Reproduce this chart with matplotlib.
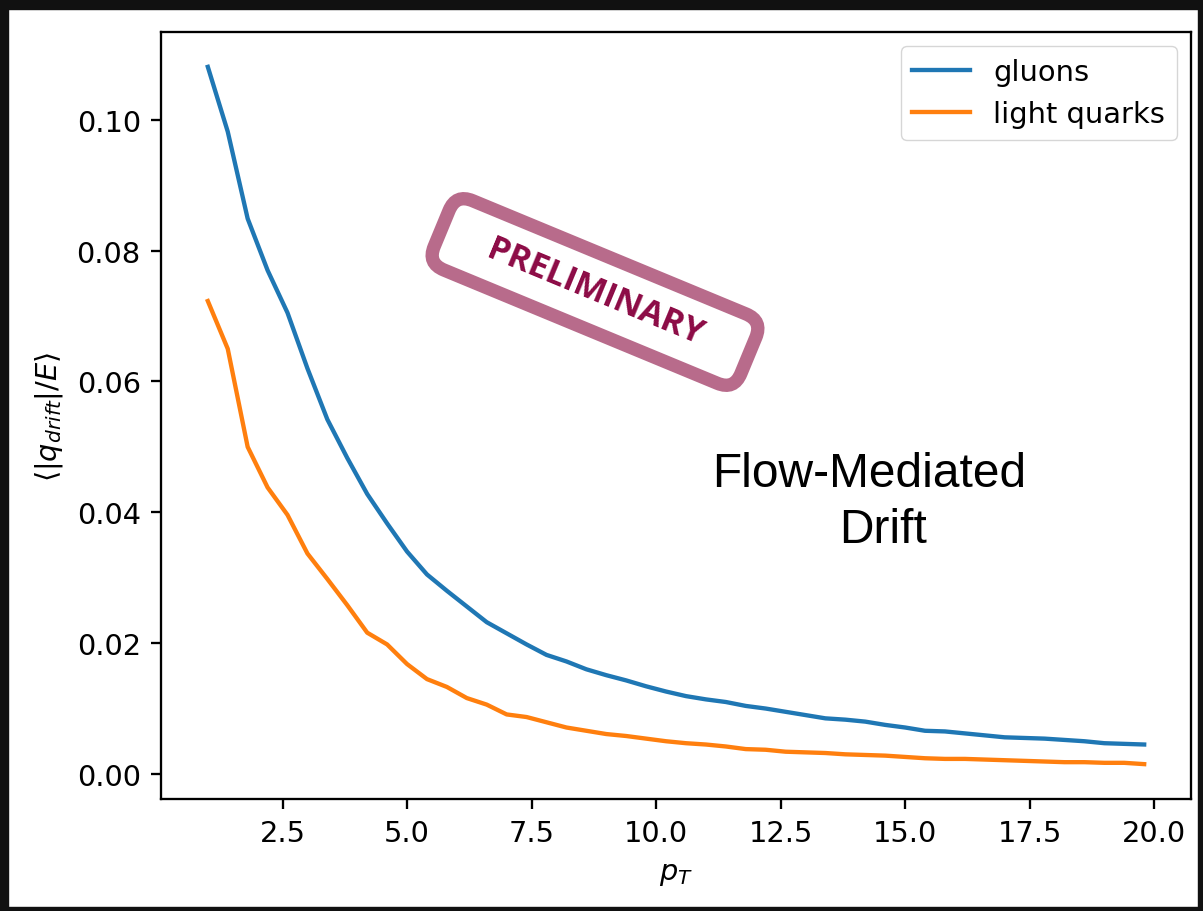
import matplotlib
matplotlib.use("Agg")
import matplotlib.pyplot as plt
import matplotlib.transforms as mtransforms
from matplotlib.patches import FancyBboxPatch, Rectangle

# ---- data ----
pt = [1.0, 1.4, 1.8, 2.2, 2.6, 3.0, 3.4, 3.8, 4.2, 4.6, 5.0, 5.4, 5.8, 6.2, 6.6, 7.0,
      7.4, 7.8, 8.2, 8.6, 9.0, 9.4, 9.8, 10.2, 10.6, 11.0, 11.4, 11.8, 12.2, 12.6, 13.0,
      13.4, 13.8, 14.2, 14.6, 15.0, 15.4, 15.8, 16.2, 16.6, 17.0, 17.4, 17.8, 18.2, 18.6,
      19.0, 19.4, 19.8]
gluons = [0.1081, 0.0982, 0.0849, 0.0770, 0.0705, 0.0620, 0.0542, 0.0483, 0.0428, 0.0383,
          0.0340, 0.0305, 0.0280, 0.0256, 0.0232, 0.0215, 0.0198, 0.0182, 0.0172, 0.0160,
          0.0151, 0.0143, 0.0134, 0.0126, 0.0119, 0.0114, 0.0110, 0.0104, 0.0100, 0.0095,
          0.0090, 0.0085, 0.0083, 0.0080, 0.0075, 0.0071, 0.0066, 0.0065, 0.0062, 0.0059,
          0.0056, 0.0055, 0.0054, 0.0052, 0.0050, 0.0047, 0.0046, 0.0045]
light_quarks = [0.0723, 0.0650, 0.0500, 0.0438, 0.0396, 0.0337, 0.0298, 0.0258, 0.0216, 0.0198,
                0.0168, 0.0145, 0.0133, 0.0116, 0.0106, 0.0091, 0.0087, 0.0079, 0.0071, 0.0066,
                0.0061, 0.0058, 0.0054, 0.0050, 0.0047, 0.0045, 0.0042, 0.0038, 0.0037, 0.0034,
                0.0033, 0.0032, 0.0030, 0.0029, 0.0028, 0.0026, 0.0024, 0.0023, 0.0023, 0.0022,
                0.0021, 0.0020, 0.0019, 0.0018, 0.0018, 0.0017, 0.0017, 0.0015]
series_labels = ["gluons", "light quarks"]
x_ticks = [2.5, 5.0, 7.5, 10.0, 12.5, 15.0, 17.5, 20.0]
y_ticks = [0.00, 0.02, 0.04, 0.06, 0.08, 0.10]

S = 2.076
plt.rcParams.update({
    "font.size": 10 * S,
    "lines.linewidth": 1.5 * S,
    "axes.linewidth": 0.8 * S,
    "xtick.major.size": 3.5 * S,
    "ytick.major.size": 3.5 * S,
    "xtick.major.width": 0.8 * S,
    "ytick.major.width": 0.8 * S,
    "xtick.major.pad": 3.5 * S,
    "ytick.major.pad": 3.5 * S,
    "axes.labelpad": 4.0 * S,
    "legend.edgecolor": "0.8",
})

W, H = 1203, 912
fig = plt.figure(figsize=(W / 100, H / 100), dpi=100)
ax = fig.add_axes([161 / W, (H - 800) / H, 1030 / W, 767 / H])

ax.plot(pt, gluons, color="#1f77b4", label=series_labels[0])
ax.plot(pt, light_quarks, color="#ff7f0e", label=series_labels[1])
ax.set_xticks(x_ticks)
ax.set_yticks(y_ticks)
ax.set_xlabel(r"$p_T$")
ax.set_ylabel(r"$\langle |q_{drift}|/E \rangle$")
ax.legend(loc="upper right")

# Flow-Mediated Drift annotation
fig.text(869 / W, (H - 487) / H, "Flow-Mediated", family="Liberation Sans",
         fontsize=34.5, ha="center", va="baseline", color="black")
fig.text(883 / W, (H - 543) / H, "Drift", family="Liberation Sans",
         fontsize=34.5, ha="center", va="baseline", color="black")

# PRELIMINARY stamp (display pixel coordinates)
cx, cy = 595, H - 293
bw, bh = 332, 75
angle = -22.5
rot = mtransforms.Affine2D().rotate_deg_around(cx, cy, angle)
stamp = FancyBboxPatch((cx - bw / 2, cy - bh / 2), bw, bh,
                       boxstyle="round,pad=0,rounding_size=18",
                       facecolor="white", edgecolor="#b86b8b", linewidth=9.6,
                       transform=rot, zorder=5)
fig.add_artist(stamp)
fig.text(cx / W, cy / H, "PRELIMINARY", rotation=angle, rotation_mode="anchor",
         ha="center", va="center", family="Open Sans", fontweight="bold",
         fontsize=24.5, color="#8c0a45", zorder=6)

# screenshot border
border = "#111111"
fig.add_artist(Rectangle((0, H - 10), W, 10, transform=None, color=border, zorder=10))
fig.add_artist(Rectangle((0, 0), 8, H, transform=None, color=border, zorder=10))
fig.add_artist(Rectangle((0, 0), W, 4, transform=None, color=border, zorder=10))
fig.add_artist(Rectangle((W - 5, 0), 5, H, transform=None, color=border, zorder=10))

fig.savefig("out.png", dpi=100)
